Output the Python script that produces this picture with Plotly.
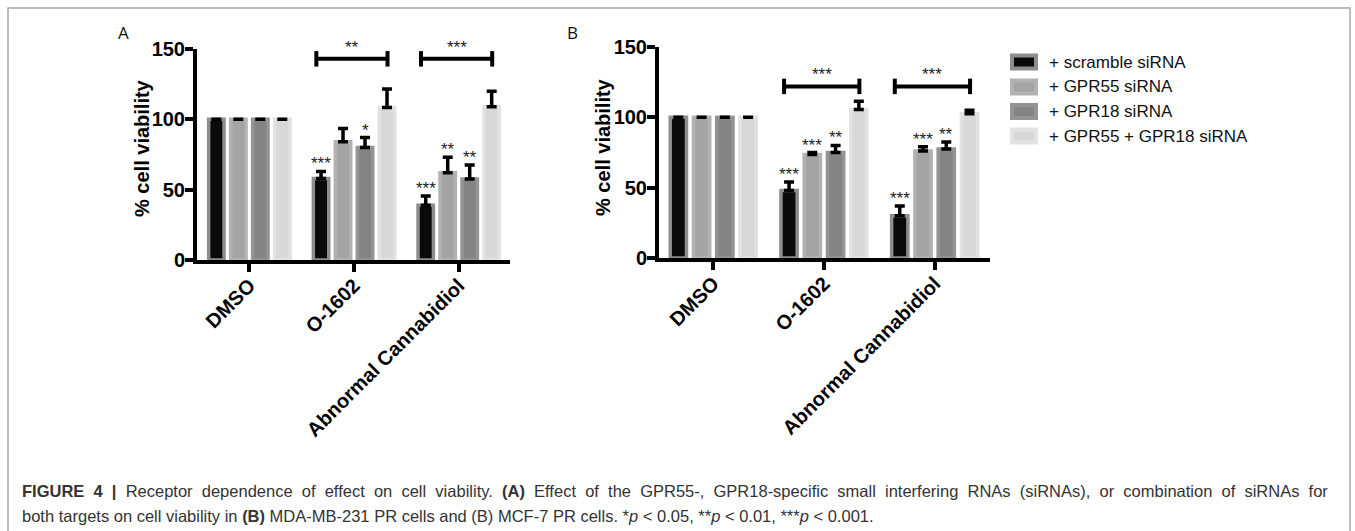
import plotly.graph_objects as go

W, H = 1355, 531

categories = ["DMSO", "O-1602", "Abnormal Cannabidiol"]
series_names = ["+ scramble siRNA", "+ GPR55 siRNA", "+ GPR18 siRNA", "+ GPR55 + GPR18 siRNA"]
y_ticks = [0, 50, 100, 150]
y_title = "% cell viability"

# Panel A
a_scramble = [100, 58, 39]
a_gpr55 = [100, 84, 62]
a_gpr18 = [100, 80, 57.5]
a_combo = [100, 108.5, 109]
a_scramble_err = [None, 5, 6.5]
a_gpr55_err = [None, 9.5, 11]
a_gpr18_err = [None, 7, 10]
a_combo_err = [None, 13, 11]
a_scramble_sig = ["", "***", "***"]
a_gpr55_sig = ["", "", "**"]
a_gpr18_sig = ["", "*", "**"]
a_combo_sig = ["", "", ""]
a_bracket_sig = ["", "**", "***"]
a_bracket_y = [None, 143, 143]

# Panel B
b_scramble = [100, 48, 30]
b_gpr55 = [100, 73.5, 76]
b_gpr18 = [100, 75, 77.5]
b_combo = [100, 105.5, 102.5]
b_scramble_err = [None, 6, 7]
b_gpr55_err = [None, 1.5, 3]
b_gpr18_err = [None, 5, 5]
b_combo_err = [None, 6, 2.5]
b_scramble_sig = ["", "***", "***"]
b_gpr55_sig = ["", "***", "***"]
b_gpr18_sig = ["", "**", "**"]
b_combo_sig = ["", "", ""]
b_bracket_sig = ["", "***", "***"]
b_bracket_y = [None, 122, 122]

caption_line1 = ("<b>FIGURE 4 |</b> Receptor dependence of effect on cell viability. <b>(A)</b> Effect of the GPR55-, "
                 "GPR18-specific small interfering RNAs (siRNAs), or combination of siRNAs for")
caption_line2 = ("both targets on cell viability in <b>(B)</b> MDA-MB-231 PR cells and (B) MCF-7 PR cells. "
                 "*<i>p</i> &lt; 0.05, **<i>p</i> &lt; 0.01, ***<i>p</i> &lt; 0.001.")

fills = ["#0a0a0a", "#a4a4a4", "#848484", "#d8d8d8"]
edges = ["#8e8e8e", "#b2b2b2", "#949494", "#e2e2e2"]
FONT = "Liberation Sans, Arial, sans-serif"
BARGAP = 0.16

panels = [
    dict(xa="x", ya="y", vals=[a_scramble, a_gpr55, a_gpr18, a_combo],
         errs=[a_scramble_err, a_gpr55_err, a_gpr18_err, a_combo_err],
         sigs=[a_scramble_sig, a_gpr55_sig, a_gpr18_sig, a_combo_sig],
         bsig=a_bracket_sig, by=a_bracket_y, title_x=142, title_y=148),
    dict(xa="x2", ya="y2", vals=[b_scramble, b_gpr55, b_gpr18, b_combo],
         errs=[b_scramble_err, b_gpr55_err, b_gpr18_err, b_combo_err],
         sigs=[b_scramble_sig, b_gpr55_sig, b_gpr18_sig, b_combo_sig],
         bsig=b_bracket_sig, by=b_bracket_y, title_x=603, title_y=147),
]


def px_x(v):
    return v / W


def px_y(v):
    return 1 - v / H


fig = go.Figure()
annotations = []
shapes = []
slot = (1 - BARGAP) / 4

for p in panels:
    for i, name in enumerate(series_names):
        err = p["errs"][i]
        fig.add_trace(go.Bar(
            x=categories, y=p["vals"][i], name=name, xaxis=p["xa"], yaxis=p["ya"],
            offsetgroup=str(i), showlegend=False,
            marker=dict(color=fills[i], line=dict(color=edges[i], width=3.5)),
            error_y=dict(type="data", array=err, arrayminus=[0 if e is not None else None for e in err],
                         symmetric=False, color="#000000", thickness=3.5, width=5),
        ))
        for j, cat in enumerate(categories):
            s = p["sigs"][i][j]
            if s:
                top = p["vals"][i][j] + (err[j] or 0)
                annotations.append(dict(
                    x=j + (i - 1.5) * slot, y=top, xref=p["xa"], yref=p["ya"], text=s,
                    showarrow=False, xanchor="center", yanchor="bottom", yshift=-4,
                    font=dict(family=FONT, size=17, color="#222222")))
    for j, cat in enumerate(categories):
        s = p["bsig"][j]
        if s:
            yb = p["by"][j]
            x0 = j - 0.36
            x1 = j + 0.32
            shapes.append(dict(type="line", xref=p["xa"], yref=p["ya"], x0=x0, x1=x1, y0=yb, y1=yb,
                               line=dict(color="#000000", width=4)))
            for xx in (x0, x1):
                shapes.append(dict(type="line", xref=p["xa"], yref=p["ya"], x0=xx, x1=xx,
                                   y0=yb - 5.5, y1=yb + 5.5, line=dict(color="#000000", width=4)))
            annotations.append(dict(
                x=(x0 + x1) / 2, y=yb, xref=p["xa"], yref=p["ya"], text=s,
                showarrow=False, xanchor="center", yanchor="bottom", yshift=0,
                font=dict(family=FONT, size=17, color="#222222")))
    annotations.append(dict(x=px_x(p["title_x"]), y=px_y(p["title_y"]), xref="paper", yref="paper",
                            text=y_title, textangle=-90, showarrow=False,
                            xanchor="center", yanchor="middle",
                            font=dict(family=FONT, size=20, color="#000000", weight="bold")))

axis_common = dict(showline=True, linecolor="#000000", linewidth=4, ticks="outside",
                   ticklen=8, tickwidth=4, tickcolor="#000000", showgrid=False, zeroline=False,
                   automargin=False,
                   tickfont=dict(family=FONT, size=20, color="#000000", weight="bold"))

fig.update_layout(
    width=W, height=H, margin=dict(l=0, r=0, t=0, b=0, autoexpand=False),
    paper_bgcolor="#ffffff", plot_bgcolor="#ffffff",
    barmode="group", bargap=BARGAP, bargroupgap=0.3,
    xaxis=dict(domain=[px_x(197), px_x(510)], anchor="y", range=[-0.5, 2.49],
               tickangle=-45, ticklabelstandoff=-6, **axis_common),
    yaxis=dict(domain=[px_y(260), px_y(49)], anchor="x", range=[0, 150], tickvals=y_ticks,
               ticklabelstandoff=-4, **axis_common),
    xaxis2=dict(domain=[px_x(659), px_x(990)], anchor="y2", range=[-0.49, 2.5],
                tickangle=-45, ticklabelstandoff=-6, **axis_common),
    yaxis2=dict(domain=[px_y(258), px_y(47)], anchor="x2", range=[0, 150], tickvals=y_ticks,
                ticklabelstandoff=-4, **axis_common),
)

# legend (manual)
leg_rows = [62, 87, 111.5, 136]
for i, name in enumerate(series_names):
    yc = leg_rows[i]
    shapes.append(dict(type="rect", xref="paper", yref="paper",
                       x0=px_x(1012), x1=px_x(1036), y0=px_y(yc + 6.5), y1=px_y(yc - 6.5),
                       fillcolor=fills[i], line=dict(color=edges[i], width=4)))
    annotations.append(dict(x=px_x(1047), y=px_y(yc), xref="paper", yref="paper", text=name,
                            showarrow=False, xanchor="left", yanchor="middle",
                            font=dict(family=FONT, size=17, color="#111111")))

# panel letters
annotations.append(dict(x=px_x(123), y=px_y(33), xref="paper", yref="paper", text="A",
                        showarrow=False, xanchor="center", yanchor="middle",
                        font=dict(family="Open Sans, " + FONT, size=17, color="#111111")))
annotations.append(dict(x=px_x(572), y=px_y(33), xref="paper", yref="paper", text="B",
                        showarrow=False, xanchor="center", yanchor="middle",
                        font=dict(family="Open Sans, " + FONT, size=17, color="#111111")))

# caption
annotations.append(dict(x=px_x(20), y=px_y(491), xref="paper", yref="paper",
                        text=caption_line1.replace(" ", "&nbsp; "),
                        showarrow=False, xanchor="left", yanchor="middle",
                        font=dict(family=FONT, size=16.5, color="#333333")))
annotations.append(dict(x=px_x(20), y=px_y(516), xref="paper", yref="paper", text=caption_line2,
                        showarrow=False, xanchor="left", yanchor="middle",
                        font=dict(family=FONT, size=16.5, color="#333333")))

# frame
shapes.append(dict(type="rect", xref="paper", yref="paper", x0=px_x(8), x1=px_x(1350),
                   y0=px_y(540), y1=px_y(8), line=dict(color="#a8a8a8", width=1.5),
                   fillcolor="rgba(0,0,0,0)", layer="below"))

fig.update_layout(annotations=annotations, shapes=shapes)
fig.write_html("out.html", config={"displayModeBar": False},
               post_script="document.body.style.margin='0';document.body.style.overflow='hidden';")
